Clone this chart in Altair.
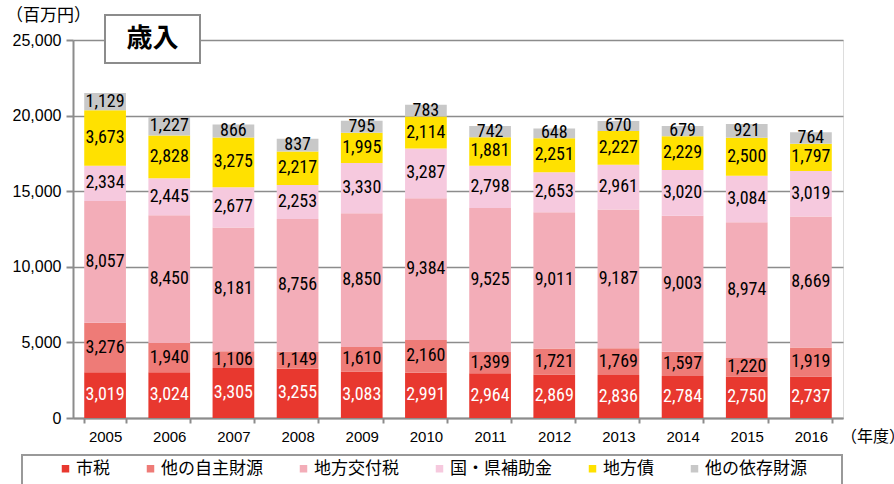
import altair as alt
import pandas as pd

years = [str(y) for y in range(2005, 2017)]
series = ["市税", "他の自主財源", "地方交付税", "国・県補助金", "地方債", "他の依存財源"]
colors = ["#E8382F", "#EE7B77", "#F3ADB8", "#F6C9DE", "#FFE100", "#C8C8C8"]

shizei = [3019, 3024, 3305, 3255, 3083, 2991, 2964, 2869, 2836, 2784, 2750, 2737]
jishu = [3276, 1940, 1106, 1149, 1610, 2160, 1399, 1721, 1769, 1597, 1220, 1919]
kofuzei = [8057, 8450, 8181, 8756, 8850, 9384, 9525, 9011, 9187, 9003, 8974, 8669]
hojokin = [2334, 2445, 2677, 2253, 3330, 3287, 2798, 2653, 2961, 3020, 3084, 3019]
chihosai = [3673, 2828, 3275, 2217, 1995, 2114, 1881, 2251, 2227, 2229, 2500, 1797]
izon = [1129, 1227, 866, 837, 795, 783, 742, 648, 670, 679, 921, 764]

y_ticks = [0, 5000, 10000, 15000, 20000, 25000]

values = [shizei, jishu, kofuzei, hojokin, chihosai, izon]
rows = []
for si, (name, vals) in enumerate(zip(series, values)):
    for yr, v in zip(years, vals):
        rows.append({"year": yr, "series": name, "value": v, "order": si})
df = pd.DataFrame(rows)

NARROW = "Liberation Sans Narrow, Arial Narrow, Roboto Condensed, sans-serif"
REG = "Liberation Sans, Arial, sans-serif"
CJK = "Noto Sans CJK JP"
GRAY = "#8c8c8c"

base = alt.Chart(df).transform_stack(
    stack="value", groupby=["year"], as_=["y0", "y1"], sort=[alt.SortField("order")]
).transform_calculate(mid="(datum.y0 + datum.y1) / 2")

xaxis = alt.Axis(
    title=None, labelAngle=0, labelFont=REG, labelFontSize=15, labelColor="black",
    domainColor=GRAY, domainWidth=2, tickColor=GRAY, tickWidth=2, tickSize=5,
    tickBand="extent", labelPadding=6,
)
yaxis = alt.Axis(
    title=None, values=y_ticks, format=",.0f", labelFont=REG, labelFontSize=16,
    labelColor="black", grid=True, gridColor=GRAY, gridWidth=1.5,
    domainColor=GRAY, domainWidth=2, tickColor=GRAY, tickWidth=2, tickSize=7,
    labelPadding=5,
)
yscale = alt.Scale(domain=[0, 25000], nice=False)
xscale = alt.Scale(paddingInner=0.35, paddingOuter=0.175)

bars = base.mark_bar().encode(
    x=alt.X("year:N", sort=years, scale=xscale, axis=xaxis),
    y=alt.Y("y0:Q", scale=yscale, axis=yaxis),
    y2="y1:Q",
    color=alt.Color(
        "series:N",
        scale=alt.Scale(domain=series, range=colors),
        legend=alt.Legend(
            title=None, orient="none", direction="horizontal", columns=6,
            legendX=-16, legendY=420, symbolType="square", symbolSize=56,
            symbolStrokeWidth=0, labelFont=CJK, labelFontSize=17, labelColor="black",
            columnPadding=32, labelOffset=2, padding=0,
        ),
    ),
)

labels = base.mark_text(font=NARROW, fontSize=18, baseline="middle").encode(
    x=alt.X("year:N", sort=years, scale=xscale, axis=xaxis),
    y=alt.Y("mid:Q", scale=yscale, axis=yaxis),
    text=alt.Text("value:Q", format=","),
    color=alt.condition(alt.datum.series == "市税", alt.value("white"), alt.value("black")),
)

one = pd.DataFrame({"k": [0]})

legend_box = alt.Chart(one).mark_rect(fill="white", stroke="#999999", strokeWidth=2).encode(
    x=alt.value(-51), x2=alt.value(769), y=alt.value(415), y2=alt.value(470)
)

title_box = alt.Chart(one).mark_rect(fill="white", stroke=GRAY, strokeWidth=2).encode(
    x=alt.value(32), x2=alt.value(127), y=alt.value(-25), y2=alt.value(23)
)
title_text = alt.Chart(one).mark_text(
    text="歳入", font=CJK, fontSize=26, fontWeight="bold", align="center", baseline="middle",
    color="black"
).encode(x=alt.value(79.5), y=alt.value(-1))

unit_text = alt.Chart(one).mark_text(
    text="（百万円）", font=CJK, fontSize=17, align="left", baseline="middle", color="black"
).encode(x=alt.value(-67), y=alt.value(-24))

year_text = alt.Chart(one).mark_text(
    text="（年度）", font=CJK, fontSize=16, align="left", baseline="middle", color="black"
).encode(x=alt.value(768), y=alt.value(397))

chart = alt.layer(
    legend_box, bars, labels, title_box, title_text, unit_text, year_text
).properties(
    width=770, height=378, autosize="none",
    padding={"left": 73, "top": 40, "right": 51, "bottom": 66},
).configure_view(stroke=GRAY, strokeWidth=2).configure(background="white")

chart.save("out.html", embed_options={"renderer": "svg", "actions": False})
